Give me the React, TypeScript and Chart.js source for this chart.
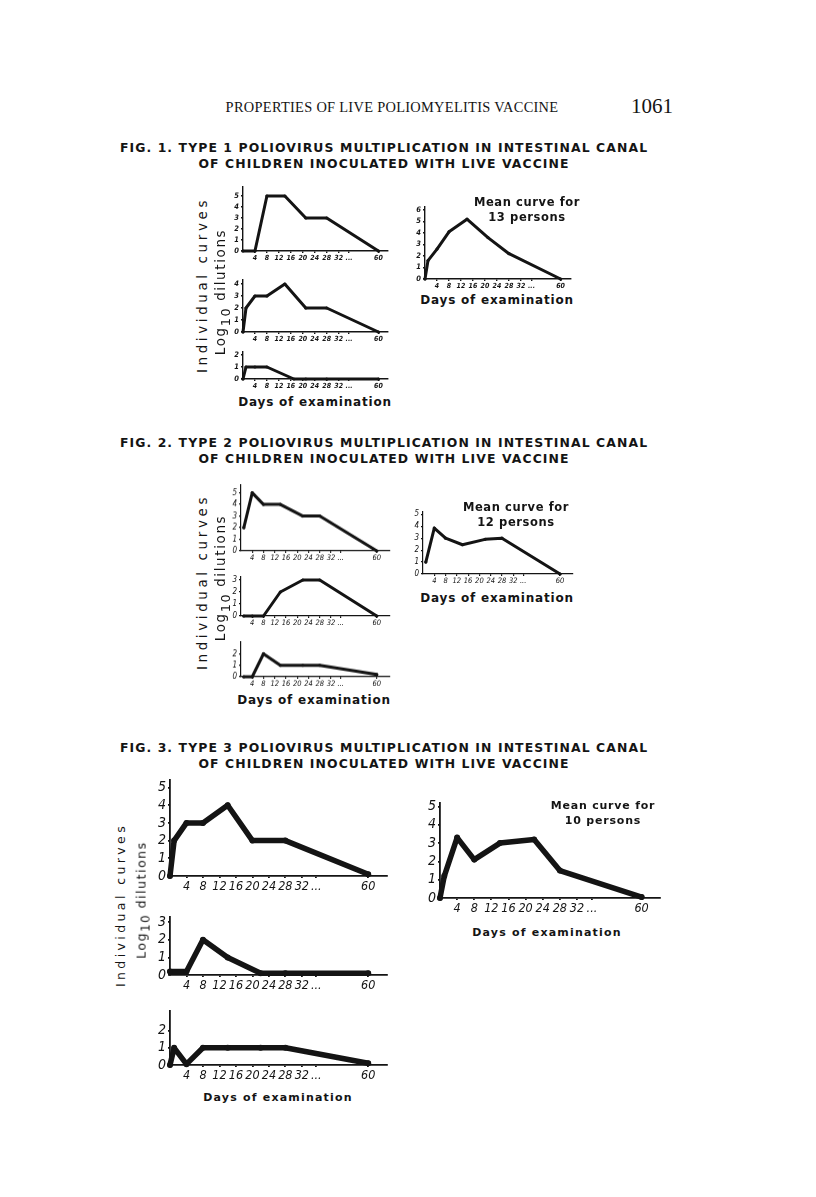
import React, { useEffect, useRef } from "react";
import { Chart, registerables } from "chart.js";
Chart.register(...registerables);

// ---------- data (days of examination, log10 dilutions) ----------
const tickDays = [4, 8, 12, 16, 20, 24, 28, 32];

const f1aDays = [0, 4, 8, 14, 21, 28, 60];
const f1aVals = [0, 0, 5, 5, 3, 3, 0];
const f1bDays = [0, 1, 4, 8, 14, 21, 28, 60];
const f1bVals = [0, 2, 3, 3, 4, 2, 2, 0];
const f1cDays = [0, 1, 4, 8, 17, 21, 28, 60];
const f1cVals = [0, 1, 1, 1, 0, 0, 0, 0];
const f1mDays = [0, 1, 4, 8, 14, 21, 28, 60];
const f1mVals = [0, 1.6, 2.6, 4.1, 5.2, 3.6, 2.2, 0];

const f2aDays = [1, 4, 8, 14, 22, 28, 60];
const f2aVals = [2, 5, 4, 4, 3, 3, 0];
const f2bDays = [1, 4, 8, 14, 22, 28, 60];
const f2bVals = [0, 0, 0, 2, 3, 3, 0];
const f2cDays = [1, 4, 8, 14, 22, 28, 60];
const f2cVals = [0, 0, 2, 1, 1, 1, 0.2];
const f2mDays = [1, 4, 8, 14, 22, 28, 60];
const f2mVals = [1, 3.85, 3, 2.45, 2.9, 3, 0];

const f3aDays = [0, 1, 4, 8, 14, 20, 28, 60];
const f3aVals = [0, 2, 3, 3, 4, 2, 2, 0.1];
const f3bDays = [0, 4, 8, 14, 22, 28, 60];
const f3bVals = [0.2, 0.2, 2, 1, 0.1, 0.1, 0.1];
const f3cDays = [0, 1, 4, 8, 14, 22, 28, 60];
const f3cVals = [0, 1, 0.05, 1, 1, 1, 1, 0.1];
const f3mDays = [0, 1, 4, 8, 14, 22, 28, 60];
const f3mVals = [0, 1.2, 3.3, 2.1, 3.0, 3.2, 1.5, 0.05];

const INK = "#141414";

type Cfg = {
  originX: number; zeroY: number; pxDay: number; pxUnit: number;
  axisTop: number; axisRight: number; pos60: number; yMax: number;
  days: number[]; vals: number[];
  lineW: number; pointR: number; axisW: number;
  tickSize: number; ySize: number; tickWeight: string;
  yW: number; xH: number;
};

function MiniChart({ c }: { c: Cfg }) {
  const ref = useRef<HTMLCanvasElement | null>(null);
  const TP = 6, RP = 6;
  const plotW = c.axisRight - c.originX;
  const plotH = c.zeroY - c.axisTop;
  const W = c.yW + plotW + RP;
  const H = TP + plotH + c.xH;
  useEffect(() => {
    if (!ref.current) return;
    const dotsPos = 35.5;
    const mapDay = (d: number) => (d <= 32 ? d : 32 + ((d - 32) * (c.pos60 - 32)) / 28);
    const pts = c.days.map((d, i) => ({ x: mapDay(d), y: c.vals[i] }));
    const fam = "'DejaVu Sans Condensed', 'Liberation Sans Narrow', 'DejaVu Sans', sans-serif";
    const chart = new Chart(ref.current, {
      type: "line",
      data: {
        datasets: [
          {
            data: pts,
            borderColor: INK,
            backgroundColor: INK,
            borderWidth: c.lineW,
            pointRadius: c.pointR,
            pointBorderWidth: 0,
            pointBackgroundColor: INK,
            borderJoinStyle: "round",
            borderCapStyle: "round",
            tension: 0,
            clip: false as any,
          } as any,
        ],
      },
      options: {
        animation: false,
        responsive: false,
        maintainAspectRatio: false,
        layout: { padding: { top: TP, right: RP, bottom: 0, left: 0 } },
        plugins: { legend: { display: false }, tooltip: { enabled: false }, title: { display: false } },
        scales: {
          x: {
            type: "linear",
            min: 0,
            max: plotW / c.pxDay,
            afterBuildTicks: (s: any) => {
              s.ticks = [...tickDays.map((v) => ({ value: v })), { value: dotsPos }, { value: c.pos60 }];
            },
            afterFit: (s: any) => {
              s.height = c.xH;
              s.paddingLeft = 0; s.paddingRight = 0; s.paddingTop = 0; s.paddingBottom = 0;
            },
            ticks: {
              autoSkip: false,
              maxRotation: 0,
              minRotation: 0,
              padding: 1,
              color: INK,
              font: { family: fam, size: c.tickSize, style: "italic", weight: c.tickWeight as any },
              callback: (v: any) => (v === c.pos60 ? "60" : v === dotsPos ? "..." : String(v)),
            },
            grid: { display: true, drawOnChartArea: false, drawTicks: true, tickLength: 2, color: INK, lineWidth: c.axisW },
            border: { display: true, color: INK, width: c.axisW },
          },
          y: {
            type: "linear",
            min: 0,
            max: plotH / c.pxUnit,
            afterBuildTicks: (s: any) => {
              const t = [];
              for (let i = 0; i <= c.yMax; i++) t.push({ value: i });
              s.ticks = t;
            },
            afterFit: (s: any) => {
              s.width = c.yW;
              s.paddingLeft = 0; s.paddingRight = 0; s.paddingTop = 0; s.paddingBottom = 0;
            },
            ticks: {
              autoSkip: false,
              padding: 2,
              color: INK,
              font: { family: fam, size: c.ySize, style: "italic", weight: c.tickWeight as any },
            },
            grid: { display: true, drawOnChartArea: false, drawTicks: true, tickLength: 2, color: INK, lineWidth: c.axisW },
            border: { display: true, color: INK, width: c.axisW },
          },
        },
      } as any,
    });
    return () => chart.destroy();
  }, []);
  return (
    <canvas
      ref={ref}
      width={W}
      height={H}
      style={{ position: "absolute", left: c.originX - c.yW, top: c.axisTop - TP, width: W, height: H }}
    />
  );
}

const small = { lineW: 3, pointR: 1.6, axisW: 1.4, tickSize: 7, ySize: 7.5, tickWeight: "bold", yW: 13, xH: 13 };
const small2 = { lineW: 3, pointR: 1.6, axisW: 1.2, tickSize: 7.5, ySize: 8, tickWeight: "normal", yW: 13, xH: 13 };
const big = { lineW: 5.5, pointR: 3, axisW: 1.8, tickSize: 12.5, ySize: 14, tickWeight: "normal", yW: 20, xH: 18 };

const charts: Cfg[] = [
  { ...small, originX: 242.5, zeroY: 251, pxDay: 3, pxUnit: 11, axisTop: 187, axisRight: 388, pos60: 45.3, yMax: 5, days: f1aDays, vals: f1aVals },
  { ...small, originX: 242.5, zeroY: 332, pxDay: 3, pxUnit: 12, axisTop: 280, axisRight: 388, pos60: 45.3, yMax: 4, days: f1bDays, vals: f1bVals },
  { ...small, originX: 242.5, zeroY: 379, pxDay: 3, pxUnit: 12, axisTop: 352, axisRight: 388, pos60: 45.3, yMax: 2, days: f1cDays, vals: f1cVals },
  { ...small, originX: 425, zeroY: 279, pxDay: 3, pxUnit: 11.5, axisTop: 207, axisRight: 571, pos60: 45.2, yMax: 6, days: f1mDays, vals: f1mVals },

  { ...small2, originX: 240.5, zeroY: 550.7, pxDay: 2.82, pxUnit: 11.6, axisTop: 485, axisRight: 390, pos60: 48.3, yMax: 5, days: f2aDays, vals: f2aVals },
  { ...small2, originX: 240.5, zeroY: 616, pxDay: 2.82, pxUnit: 12, axisTop: 577, axisRight: 390, pos60: 48.3, yMax: 3, days: f2bDays, vals: f2bVals },
  { ...small2, originX: 240.5, zeroY: 676.7, pxDay: 2.82, pxUnit: 11.5, axisTop: 642, axisRight: 390, pos60: 48.3, yMax: 2, days: f2cDays, vals: f2cVals },
  { ...small2, originX: 423, zeroY: 574.3, pxDay: 2.82, pxUnit: 12, axisTop: 512, axisRight: 573, pos60: 48.6, yMax: 5, days: f2mDays, vals: f2mVals },

  { ...big, originX: 169.5, zeroY: 876, pxDay: 4.13, pxUnit: 17.7, axisTop: 780, axisRight: 387, pos60: 48.1, yMax: 5, days: f3aDays, vals: f3aVals },
  { ...big, originX: 169.5, zeroY: 975, pxDay: 4.13, pxUnit: 17.6, axisTop: 917, axisRight: 387, pos60: 48.1, yMax: 3, days: f3bDays, vals: f3bVals },
  { ...big, originX: 169.5, zeroY: 1065, pxDay: 4.13, pxUnit: 17.2, axisTop: 1011, axisRight: 387, pos60: 48.1, yMax: 2, days: f3cDays, vals: f3cVals },
  { ...big, originX: 439.5, zeroY: 898, pxDay: 4.29, pxUnit: 18.3, axisTop: 803, axisRight: 660, pos60: 47.1, yMax: 5, days: f3mDays, vals: f3mVals },
];

const sans = "'DejaVu Sans', 'Noto Sans', sans-serif";

function Txt(p: { x: number; y: number; size: number; children: any; weight?: any; ls?: number; family?: string; rot?: boolean }) {
  return (
    <div
      style={{
        position: "absolute",
        left: p.x,
        top: p.y,
        transform: `translate(-50%, -50%)${p.rot ? " rotate(-90deg)" : ""}`,
        whiteSpace: "nowrap",
        fontFamily: p.family || sans,
        fontSize: p.size,
        fontWeight: p.weight ?? "bold",
        letterSpacing: p.ls ?? 0,
        color: INK,
        lineHeight: 1,
      }}
    >
      {p.children}
    </div>
  );
}

function Title({ y, n }: { y: number; n: number }) {
  return (
    <>
      <Txt x={384} y={y} size={12.4} ls={1.1}>{`FIG. ${n}. TYPE ${n} POLIOVIRUS MULTIPLICATION IN INTESTINAL CANAL`}</Txt>
      <Txt x={384} y={y + 16} size={12.4} ls={1.1}>OF CHILDREN INOCULATED WITH LIVE VACCINE</Txt>
    </>
  );
}

function YLabels({ x1, x2, y1, y2, size, ls }: { x1: number; x2: number; y1: number; y2: number; size: number; ls: number }) {
  return (
    <>
      <Txt x={x1} y={y1} size={size} weight="normal" ls={ls} rot>Individual curves</Txt>
      <Txt x={x2} y={y2} size={size} weight="normal" ls={ls * 0.45} rot>
        <span>Log</span>
        <span style={{ fontSize: size * 0.95, position: "relative", top: size * 0.35 }}>10</span>
        <span> dilutions</span>
      </Txt>
    </>
  );
}

export default function App() {
  return (
    <div style={{ position: "absolute", left: 0, top: 0, width: 816, height: 1197, background: "#fff", overflow: "hidden" }}>
      <Txt x={392} y={107} size={14.4} weight="normal" family="'Liberation Serif', serif" ls={0.3}>
        PROPERTIES OF LIVE POLIOMYELITIS VACCINE
      </Txt>
      <Txt x={652} y={106} size={21} weight="normal" family="'Liberation Serif', serif">1061</Txt>

      <Title y={148} n={1} />
      <Title y={443} n={2} />
      <Title y={748} n={3} />

      {charts.map((c, i) => (
        <MiniChart key={i} c={c} />
      ))}

      <YLabels x1={203} x2={221} y1={285} y2={292} size={13.5} ls={3.6} />
      <YLabels x1={203} x2={221} y1={582} y2={578} size={13.5} ls={3.6} />
      <YLabels x1={121} x2={142} y1={905} y2={900} size={12.5} ls={3.4} />

      <Txt x={315} y={402} size={12} ls={0.8}>Days of examination</Txt>
      <Txt x={497} y={300} size={12} ls={0.8}>Days of examination</Txt>
      <Txt x={314} y={700} size={12} ls={0.8}>Days of examination</Txt>
      <Txt x={497} y={598} size={12} ls={0.8}>Days of examination</Txt>
      <Txt x={278} y={1097} size={11} weight={600} ls={1.2}>Days of examination</Txt>
      <Txt x={547} y={932} size={11} weight={600} ls={1.2}>Days of examination</Txt>

      <Txt x={527} y={203} size={11.5} ls={0.6}>Mean curve for</Txt>
      <Txt x={527} y={218} size={11.5} ls={0.6}>13 persons</Txt>
      <Txt x={516} y={508} size={11.5} ls={0.6}>Mean curve for</Txt>
      <Txt x={516} y={523} size={11.5} ls={0.6}>12 persons</Txt>
      <Txt x={603} y={805} size={11} weight={600} ls={0.8}>Mean curve for</Txt>
      <Txt x={603} y={820} size={11} weight={600} ls={0.8}>10 persons</Txt>
    </div>
  );
}
